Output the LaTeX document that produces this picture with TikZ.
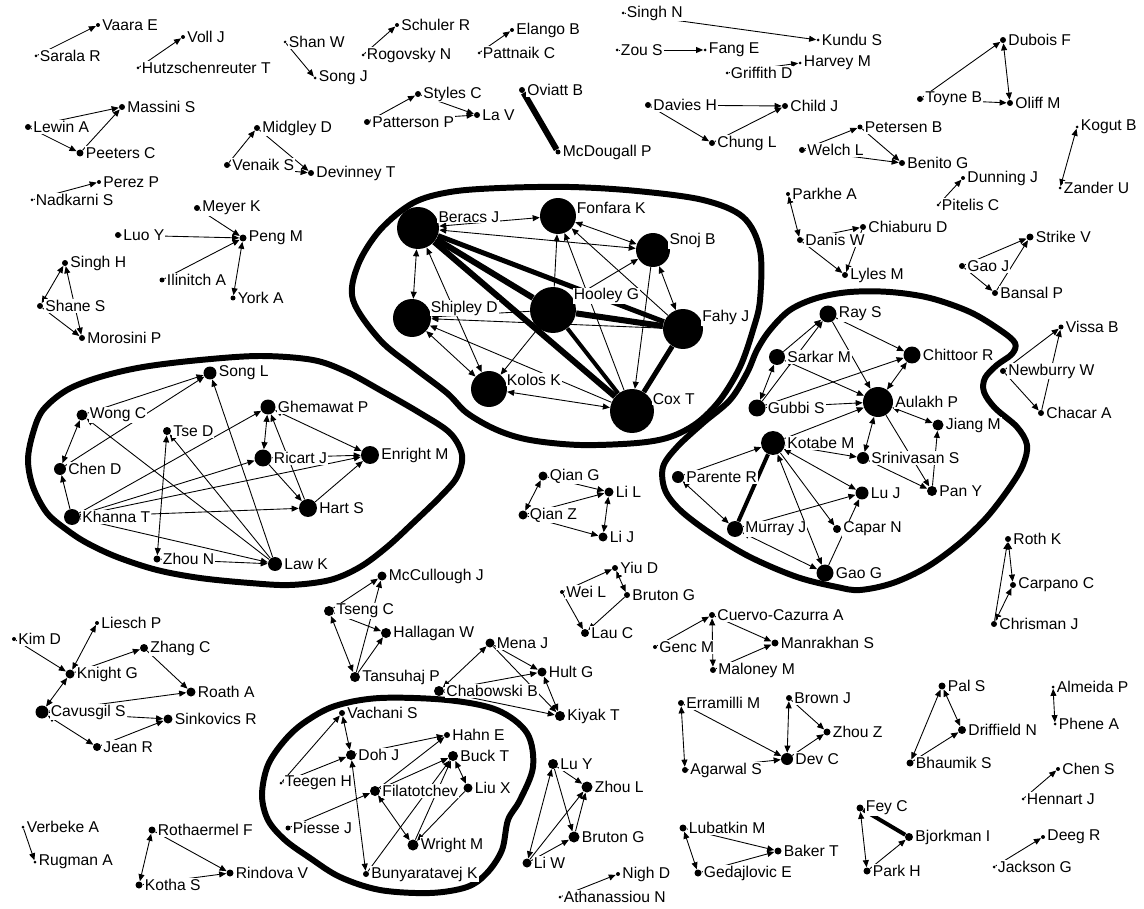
\documentclass[tikz,border=0pt]{standalone}
\usepackage{fontspec}
\newfontfamily\netfont{Liberation Sans}
\usetikzlibrary{arrows.meta}
\pgfdeclarelayer{background}
\pgfsetlayers{background,main}

\begin{document}
\begin{tikzpicture}[
        x=0.02cm, y=-0.02cm,
        vtx/.style={
            circle,
            fill=black,
            inner sep=0pt,
            minimum size=#1*0.2mm
        },
        lbl/.style={
            font=\netfont\fontsize{8.9}{10}\selectfont,
            fill=white,
            inner sep=0.6pt
        },
        every label/.style={lbl},
        label distance=0.4pt,
        lnk/.style={
            -{Triangle[length=4pt,width=3.4pt]},
            line width=0.5pt
        },
        dlnk/.style={
            {Triangle[length=4pt,width=3.4pt]}-{Triangle[length=4pt,width=3.4pt]},
            line width=0.5pt
        },
        tie/.style={
            line width=#1*0.2mm
        },
        hull/.style={
            line width=3.4pt,
            line join=round
        }
    ]

        \useasboundingbox (0,0) rectangle (1144,909);

        % Isolated pairs and triads, top left
        \node[vtx=3, label=right:Sarala R] (sarala) at (36,56) {};
        \node[vtx=4, label=right:Vaara E] (vaara) at (98,25) {};
        \node[vtx=3, label=right:Hutzschenreuter T] (hutz) at (138,68) {};
        \node[vtx=4, label=right:Voll J] (voll) at (183,37) {};
        \node[vtx=6, label=right:Massini S] (massini) at (122,107) {};
        \node[vtx=6, label=right:Lewin A] (lewin) at (28,127) {};
        \node[vtx=7, label=right:Peeters C] (peeters) at (80,153) {};
        \node[vtx=3, label=right:Nadkarni S] (nadkarni) at (32,200) {};
        \node[vtx=4, label=right:Perez P] (perez) at (99,182) {};
        \node[vtx=6, label=right:Meyer K] (meyer) at (197,208) {};
        \node[vtx=6, label=right:Luo Y] (luo) at (118,235) {};
        \node[vtx=7, label=right:Peng M] (peng) at (243,238) {};
        \node[vtx=5, label=right:Ilinitch A] (ilinitch) at (162,280) {};
        \node[vtx=5, label=right:York A] (york) at (233,298) {};
        \node[vtx=6, label=right:Singh H] (singhh) at (65,263) {};
        \node[vtx=6, label=right:Shane S] (shane) at (40,306) {};
        \node[vtx=6, label=right:Morosini P] (morosini) at (82,338) {};

        \node[vtx=3, label=right:Shan W] (shan) at (285,42) {};
        \node[vtx=3, label=right:Song J] (songj) at (315,78) {};
        \node[vtx=4, label=right:Schuler R] (schuler) at (397,25) {};
        \node[vtx=3, label=right:Rogovsky N] (rogovsky) at (363,55) {};
        \node[vtx=4, label=right:Elango B] (elango) at (512,30) {};
        \node[vtx=3, label=right:Pattnaik C] (pattnaik) at (479,53) {};
        \node[vtx=6, label=right:Styles C] (styles) at (418,94) {};
        \node[vtx=6, label=right:Patterson P] (patterson) at (367,122) {};
        \node[vtx=6, label=right:La V] (lav) at (477,115) {};
        \node[vtx=6, label=right:Oviatt B] (oviatt) at (522,90) {};
        \node[vtx=5, label=right:McDougall P] (mcdougall) at (558,152) {};
        \node[vtx=6, label=right:Midgley D] (midgley) at (257,128) {};
        \node[vtx=6, label=right:Venaik S] (venaik) at (227,165) {};
        \node[vtx=6, label=right:Devinney T] (devinney) at (311,173) {};

        % Isolated pairs and triads, top right
        \node[vtx=3, label=right:Singh N] (singhn) at (623,13) {};
        \node[vtx=3, label=right:Kundu S] (kundu) at (818,40) {};
        \node[vtx=3, label=right:Zou S] (zou) at (617,50) {};
        \node[vtx=3, label=right:Fang E] (fang) at (705,50) {};
        \node[vtx=3, label=right:Griffith D] (griffith) at (727,73) {};
        \node[vtx=3, label=right:Harvey M] (harvey) at (800,63) {};
        \node[vtx=6, label=right:Davies H] (davies) at (648,105) {};
        \node[vtx=6, label=right:Child J] (child) at (785,106) {};
        \node[vtx=6, label=right:Chung L] (chung) at (712,143) {};
        \node[vtx=6, label=right:Welch L] (welch) at (802,150) {};
        \node[vtx=5, label=right:Petersen B] (petersen) at (860,127) {};
        \node[vtx=6, label=right:Benito G] (benito) at (902,163) {};
        \node[vtx=4, label=right:Parkhe A] (parkhe) at (788,194) {};
        \node[vtx=6, label=right:Danis W] (danis) at (800,240) {};
        \node[vtx=6, label=right:Lyles M] (lyles) at (845,275) {};
        \node[vtx=6, label=right:Chiaburu D] (chiaburu) at (863,227) {};
        \node[vtx=6, label=right:Dubois F] (dubois) at (1003,40) {};
        \node[vtx=6, label=right:Toyne B] (toyne) at (920,99) {};
        \node[vtx=6, label=right:Oliff M] (oliff) at (1010,103) {};
        \node[vtx=3, label=right:Kogut B] (kogut) at (1077,127) {};
        \node[vtx=3, label=right:Zander U] (zander) at (1060,188) {};
        \node[vtx=4, label=right:Dunning J] (dunning) at (963,178) {};
        \node[vtx=3, label=right:Pitelis C] (pitelis) at (938,205) {};
        \node[vtx=7, label=right:Strike V] (strike) at (1030,237) {};
        \node[vtx=6, label=right:Gao J] (gaoj) at (962,266) {};
        \node[vtx=6, label=right:Bansal P] (bansal) at (995,293) {};

        % Top cluster
        \node[vtx=42, label={[anchor=west]30:Beracs J}] (beracs) at (418,228) {};
        \node[vtx=36, label={[anchor=west]24:Fonfara K}] (fonfara) at (558,216) {};
        \node[vtx=34, label={[anchor=west]33:Snoj B}] (snoj) at (653,250) {};
        \node[vtx=38, label={[anchor=west]30:Shipley D}] (shipley) at (412,318) {};
        \node[vtx=46, label={[anchor=west]36:Hooley G}] (hooley) at (553,310) {};
        \node[vtx=40, label={[anchor=west]32:Fahy J}] (fahy) at (683,329) {};
        \node[vtx=36, label={[anchor=west]30:Kolos K}] (kolos) at (489,389) {};
        \node[vtx=44, label={[anchor=west]32:Cox T}] (cox) at (632,411) {};

        % Left cluster
        \node[vtx=13, label=right:Song L] (songl) at (210,373) {};
        \node[vtx=11, label=right:Wong C] (wong) at (82,415) {};
        \node[vtx=8, label=right:Tse D] (tse) at (167,431) {};
        \node[vtx=12, label=right:Chen D] (chend) at (60,469) {};
        \node[vtx=16, label=right:Khanna T] (khanna) at (72,517) {};
        \node[vtx=7, label=right:Zhou N] (zhoun) at (157,559) {};
        \node[vtx=14, label=right:Law K] (law) at (275,564) {};
        \node[vtx=15, label=right:Ghemawat P] (ghemawat) at (268,407) {};
        \node[vtx=17, label=right:Ricart J] (ricart) at (263,458) {};
        \node[vtx=18, label=right:Enright M] (enright) at (370,455) {};
        \node[vtx=18, label=right:Hart S] (hart) at (308,508) {};

        % Middle groups
        \node[vtx=9, label=right:Qian G] (qiang) at (543,476) {};
        \node[vtx=9, label=right:Qian Z] (qianz) at (523,515) {};
        \node[vtx=9, label=right:Li L] (lil) at (609,492) {};
        \node[vtx=9, label=right:Li J] (lij) at (603,537) {};
        \node[vtx=9, label=right:McCullough J] (mccull) at (382,576) {};
        \node[vtx=10, label=right:Tseng C] (tseng) at (329,611) {};
        \node[vtx=10, label=right:Hallagan W] (hallagan) at (386,633) {};
        \node[vtx=10, label=right:Tansuhaj P] (tansuhaj) at (355,677) {};
        \node[vtx=9, label=right:Mena J] (mena) at (490,643) {};
        \node[vtx=9, label=right:Hult G] (hult) at (542,672) {};
        \node[vtx=10, label=right:Chabowski B] (chabowski) at (439,691) {};
        \node[vtx=10, label=right:Kiyak T] (kiyak) at (560,716) {};
        \node[vtx=6, label=right:Yiu D] (yiu) at (615,568) {};
        \node[vtx=6, label=right:Bruton G] (brutona) at (627,595) {};
        \node[vtx=4, label=right:Wei L] (weil) at (562,592) {};
        \node[vtx=8, label=right:Lau C] (lauc) at (585,633) {};

        % Right cluster
        \node[vtx=17, label=right:Ray S] (ray) at (828,314) {};
        \node[vtx=16, label=right:Sarkar M] (sarkar) at (777,357) {};
        \node[vtx=17, label=right:Chittoor R] (chittoor) at (912,355) {};
        \node[vtx=17, label=right:Gubbi S] (gubbi) at (757,408) {};
        \node[vtx=30, label=right:Aulakh P] (aulakh) at (878,402) {};
        \node[vtx=24, label=right:Kotabe M] (kotabe) at (773,443) {};
        \node[vtx=11, label=right:Jiang M] (jiang) at (938,425) {};
        \node[vtx=12, label=right:Srinivasan S] (srini) at (863,458) {};
        \node[vtx=12, label=right:Parente R] (parente) at (678,477) {};
        \node[vtx=13, label=right:Lu J] (luj) at (862,493) {};
        \node[vtx=10, label=right:Pan Y] (pany) at (932,491) {};
        \node[vtx=16, label=right:Murray J] (murray) at (735,529) {};
        \node[vtx=8, label=right:Capar N] (capar) at (837,529) {};
        \node[vtx=17, label=right:Gao G] (gaog) at (825,573) {};

        \node[vtx=5, label=right:Vissa B] (vissa) at (1061,327) {};
        \node[vtx=6, label=right:Newburry W] (newburry) at (1003,371) {};
        \node[vtx=6, label=right:Chacar A] (chacar) at (1041,413) {};
        \node[vtx=6, label=right:Roth K] (roth) at (1008,539) {};
        \node[vtx=6, label=right:Carpano C] (carpano) at (1013,585) {};
        \node[vtx=6, label=right:Chrisman J] (chrisman) at (994,624) {};

        % Bottom left
        \node[vtx=4, label=right:Liesch P] (liesch) at (97,623) {};
        \node[vtx=4, label=right:Kim D] (kim) at (14,639) {};
        \node[vtx=8, label=right:Zhang C] (zhangc) at (144,648) {};
        \node[vtx=9, label=right:Knight G] (knight) at (70,674) {};
        \node[vtx=9, label=right:Roath A] (roath) at (191,692) {};
        \node[vtx=13, label=right:Cavusgil S] (cavusgil) at (42,712) {};
        \node[vtx=9, label=right:Sinkovics R] (sinkovics) at (168,719) {};
        \node[vtx=8, label=right:Jean R] (jean) at (97,747) {};
        \node[vtx=3, label=right:Verbeke A] (verbeke) at (23,827) {};
        \node[vtx=3, label=right:Rugman A] (rugman) at (35,862) {};
        \node[vtx=7, label=right:Rothaermel F] (rothaermel) at (152,830) {};
        \node[vtx=7, label=right:Kotha S] (kotha) at (139,885) {};
        \node[vtx=7, label=right:Rindova V] (rindova) at (230,873) {};

        % Bottom cluster
        \node[vtx=6, label=right:Vachani S] (vachani) at (342,713) {};
        \node[vtx=10, label=right:Doh J] (doh) at (351,755) {};
        \node[vtx=6, label=right:Hahn E] (hahn) at (447,735) {};
        \node[vtx=10, label=right:Buck T] (buck) at (453,756) {};
        \node[vtx=3, label=right:Teegen H] (teegen) at (281,783) {};
        \node[vtx=10, label=right:Filatotchev] (filat) at (375,791) {};
        \node[vtx=9, label=right:Liu X] (liux) at (468,788) {};
        \node[vtx=5, label=right:Piesse J] (piesse) at (288,828) {};
        \node[vtx=11, label=right:Wright M] (wright) at (413,845) {};
        \node[vtx=6, label=right:Bunyaratavej K] (bunya) at (366,874) {};

        % Bottom middle and right
        \node[vtx=10, label=right:Lu Y] (luy) at (553,764) {};
        \node[vtx=11, label=right:Zhou L] (zhoul) at (587,787) {};
        \node[vtx=11, label=right:Bruton G] (brutonb) at (574,837) {};
        \node[vtx=9, label=right:Li W] (liw) at (527,863) {};
        \node[vtx=4, label=right:Nigh D] (nigh) at (618,874) {};
        \node[vtx=3, label=right:Athanassiou N] (athan) at (560,897) {};
        \node[vtx=6, label=right:Cuervo-Cazurra A] (cuervo) at (712,615) {};
        \node[vtx=4, label=right:Genc M] (genc) at (655,647) {};
        \node[vtx=7, label=right:Manrakhan S] (manrakhan) at (775,643) {};
        \node[vtx=6, label=right:Maloney M] (maloney) at (713,670) {};
        \node[vtx=6, label=right:Erramilli M] (erramilli) at (681,703) {};
        \node[vtx=6, label=right:Brown J] (brownj) at (789,698) {};
        \node[vtx=7, label=right:Zhou Z] (zhouz) at (827,732) {};
        \node[vtx=6, label=right:Agarwal S] (agarwal) at (685,770) {};
        \node[vtx=12, label=right:Dev C] (devc) at (787,759) {};
        \node[vtx=7, label=right:Lubatkin M] (lubatkin) at (683,828) {};
        \node[vtx=7, label=right:Baker T] (baker) at (778,851) {};
        \node[vtx=7, label=right:Gedajlovic E] (gedaj) at (698,873) {};
        \node[vtx=7, label=right:Pal S] (pals) at (942,686) {};
        \node[vtx=8, label=right:Driffield N] (driffield) at (962,730) {};
        \node[vtx=7, label=right:Bhaumik S] (bhaumik) at (910,763) {};
        \node[vtx=3, label=right:Almeida P] (almeida) at (1053,687) {};
        \node[vtx=3, label=right:Phene A] (phene) at (1055,724) {};
        \node[vtx=4, label=right:Chen S] (chens) at (1058,769) {};
        \node[vtx=3, label=right:Hennart J] (hennart) at (1023,799) {};
        \node[vtx=7, label=right:Fey C] (fey) at (860,808) {};
        \node[vtx=8, label=right:Bjorkman I] (bjorkman) at (909,837) {};
        \node[vtx=7, label=right:Park H] (parkh) at (867,871) {};
        \node[vtx=4, label=right:Deeg R] (deeg) at (1043,837) {};
        \node[vtx=3, label=right:Jackson G] (jackson) at (994,867) {};

        \begin{pgfonlayer}{background}
        % Cluster outlines
        \draw[hull] plot[smooth cycle, tension=0.55] coordinates {
            (353,300) (358,265) (380,230) (413,203) (450,192) (500,188)
            (570,187) (637,191) (703,200) (743,217) (760,250) (760,300)
            (753,330) (740,367) (720,400) (697,423) (670,437) (637,443)
            (580,445) (530,440) (497,430) (467,413) (447,393) (413,367)
            (380,340)};
        \draw[hull] plot[smooth cycle, tension=0.55] coordinates {
            (28,460) (33,433) (43,410) (67,390) (100,377) (143,367)
            (200,360) (260,356) (313,360) (347,372) (380,390) (420,413)
            (450,433) (462,455) (457,477) (440,497) (413,523) (387,547)
            (360,567) (330,580) (290,585) (250,583) (200,578) (157,570)
            (117,557) (87,543) (67,530) (47,513) (33,487)};
        \draw[hull] plot[smooth cycle, tension=0.55] coordinates {
            (817,298) (850,292) (890,292) (930,298) (970,312) (1000,330)
            (1015,343) (1012,354) (997,365) (985,378) (984,392) (995,408)
            (1017,427) (1027,445) (1023,465) (1010,487) (987,517) (960,543)
            (927,567) (893,583) (860,590) (837,587) (797,577) (750,557)
            (710,533) (680,510) (665,490) (663,467) (677,447) (703,423)
            (730,400) (747,373) (757,350) (770,330) (790,310)};
        \draw[hull] plot[smooth cycle, tension=0.55] coordinates {
            (262,795) (268,765) (285,740) (305,722) (335,706) (380,698)
            (447,700) (497,710) (527,733) (533,767) (520,800) (508,820)
            (502,850) (487,873) (467,887) (430,893) (380,890) (340,877)
            (310,858) (285,840) (268,820)};

        % Ties, top left
        \draw[lnk] (sarala) -- (vaara);
        \draw[lnk] (hutz) -- (voll);
        \draw[lnk] (lewin) -- (massini);
        \draw[lnk] (lewin) -- (peeters);
        \draw[lnk] (peeters) -- (massini);
        \draw[lnk] (nadkarni) -- (perez);
        \draw[lnk] (meyer) -- (peng);
        \draw[lnk] (luo) -- (peng);
        \draw[lnk] (ilinitch) -- (peng);
        \draw[dlnk] (york) -- (peng);
        \draw[dlnk] (shane) -- (singhh);
        \draw[lnk] (shane) -- (morosini);
        \draw[dlnk] (singhh) -- (morosini);
        \draw[lnk] (shan) -- (songj);
        \draw[lnk] (rogovsky) -- (schuler);
        \draw[lnk] (pattnaik) -- (elango);
        \draw[lnk] (patterson) -- (styles);
        \draw[lnk] (styles) -- (lav);
        \draw[lnk] (patterson) -- (lav);
        \draw[tie=6] (oviatt) -- (mcdougall);
        \draw[lnk] (venaik) -- (midgley);
        \draw[lnk] (midgley) -- (devinney);
        \draw[lnk] (venaik) -- (devinney);

        % Ties, top right
        \draw[lnk] (singhn) -- (kundu);
        \draw[lnk] (zou) -- (fang);
        \draw[lnk] (griffith) -- (harvey);
        \draw[lnk] (davies) -- (child);
        \draw[lnk] (davies) -- (chung);
        \draw[lnk] (chung) -- (child);
        \draw[lnk] (welch) -- (petersen);
        \draw[lnk] (petersen) -- (benito);
        \draw[lnk] (welch) -- (benito);
        \draw[dlnk] (parkhe) -- (danis);
        \draw[lnk] (danis) -- (chiaburu);
        \draw[lnk] (danis) -- (lyles);
        \draw[lnk] (chiaburu) -- (lyles);
        \draw[lnk] (toyne) -- (dubois);
        \draw[lnk] (toyne) -- (oliff);
        \draw[dlnk] (dubois) -- (oliff);
        \draw[dlnk] (kogut) -- (zander);
        \draw[lnk] (pitelis) -- (dunning);
        \draw[lnk] (gaoj) -- (strike);
        \draw[lnk] (gaoj) -- (bansal);
        \draw[lnk] (bansal) -- (strike);

        % Ties, top cluster
        \draw[dlnk] (beracs) -- (fonfara);
        \draw[dlnk] (beracs) -- (snoj);
        \draw[dlnk] (beracs) -- (shipley);
        \draw[dlnk] (beracs) -- (kolos);
        \draw[tie=6] (beracs) -- (hooley);
        \draw[tie=5] (beracs) -- (fahy);
        \draw[tie=6] (beracs) -- (cox);
        \draw[dlnk] (fonfara) -- (snoj);
        \draw[lnk] (hooley) -- (fonfara);
        \draw[lnk] (fahy) -- (fonfara);
        \draw[lnk] (cox) -- (fonfara);
        \draw[lnk] (hooley) -- (snoj);
        \draw[dlnk] (snoj) -- (fahy);
        \draw[lnk] (snoj) -- (cox);
        \draw[lnk] (hooley) -- (shipley);
        \draw[lnk] (fahy) -- (shipley);
        \draw[lnk] (cox) -- (shipley);
        \draw[dlnk] (shipley) -- (kolos);
        \draw[lnk] (hooley) -- (kolos);
        \draw[dlnk] (cox) -- (kolos);
        \draw[tie=6] (hooley) -- (fahy);
        \draw[tie=4] (hooley) -- (cox);
        \draw[tie=5] (fahy) -- (cox);

        % Ties, left cluster
        \draw[lnk] (wong) -- (songl);
        \draw[lnk] (chend) -- (songl);
        \draw[dlnk] (wong) -- (chend);
        \draw[lnk] (khanna) -- (chend);
        \draw[lnk] (khanna) -- (ghemawat);
        \draw[lnk] (khanna) -- (ricart);
        \draw[lnk] (khanna) -- (enright);
        \draw[lnk] (khanna) -- (hart);
        \draw[lnk] (khanna) -- (law);
        \draw[dlnk] (tse) -- (zhoun);
        \draw[lnk] (law) -- (tse);
        \draw[lnk] (law) -- (wong);
        \draw[lnk] (law) -- (songl);
        \draw[lnk] (zhoun) -- (law);
        \draw[dlnk] (ricart) -- (ghemawat);
        \draw[dlnk] (ghemawat) -- (enright);
        \draw[lnk] (ricart) -- (enright);
        \draw[lnk] (ricart) -- (hart);
        \draw[lnk] (hart) -- (enright);
        \draw[lnk] (hart) -- (ghemawat);

        % Ties, middle groups
        \draw[dlnk] (qiang) -- (qianz);
        \draw[lnk] (qiang) -- (lil);
        \draw[lnk] (qianz) -- (lil);
        \draw[lnk] (qianz) -- (lij);
        \draw[dlnk] (lil) -- (lij);
        \draw[lnk] (tseng) -- (mccull);
        \draw[lnk] (tansuhaj) -- (mccull);
        \draw[lnk] (tseng) -- (hallagan);
        \draw[dlnk] (tseng) -- (tansuhaj);
        \draw[lnk] (tansuhaj) -- (hallagan);
        \draw[dlnk] (chabowski) -- (mena);
        \draw[lnk] (mena) -- (hult);
        \draw[lnk] (mena) -- (kiyak);
        \draw[dlnk] (hult) -- (kiyak);
        \draw[lnk] (chabowski) -- (hult);
        \draw[lnk] (chabowski) -- (kiyak);
        \draw[lnk] (weil) -- (yiu);
        \draw[dlnk] (yiu) -- (brutona);
        \draw[lnk] (weil) -- (lauc);
        \draw[lnk] (brutona) -- (lauc);

        % Ties, right cluster
        \draw[lnk] (sarkar) -- (ray);
        \draw[lnk] (gubbi) -- (ray);
        \draw[lnk] (ray) -- (chittoor);
        \draw[lnk] (ray) -- (aulakh);
        \draw[dlnk] (sarkar) -- (gubbi);
        \draw[dlnk] (sarkar) -- (aulakh);
        \draw[lnk] (gubbi) -- (chittoor);
        \draw[lnk] (gubbi) -- (aulakh);
        \draw[lnk] (kotabe) -- (aulakh);
        \draw[dlnk] (chittoor) -- (aulakh);
        \draw[dlnk] (aulakh) -- (jiang);
        \draw[dlnk] (aulakh) -- (srini);
        \draw[lnk] (aulakh) -- (pany);
        \draw[lnk] (pany) -- (jiang);
        \draw[lnk] (srini) -- (pany);
        \draw[dlnk] (kotabe) -- (srini);
        \draw[dlnk] (kotabe) -- (luj);
        \draw[lnk] (kotabe) -- (capar);
        \draw[dlnk] (kotabe) -- (gaog);
        \draw[tie=4] (kotabe) -- (murray);
        \draw[lnk] (parente) -- (kotabe);
        \draw[dlnk] (parente) -- (murray);
        \draw[lnk] (murray) -- (luj);
        \draw[dlnk] (murray) -- (gaog);
        \draw[lnk] (gaog) -- (luj);
        \draw[lnk] (newburry) -- (vissa);
        \draw[lnk] (chacar) -- (vissa);
        \draw[lnk] (newburry) -- (chacar);
        \draw[dlnk] (roth) -- (carpano);
        \draw[lnk] (chrisman) -- (roth);
        \draw[dlnk] (chrisman) -- (carpano);

        % Ties, bottom left
        \draw[lnk] (kim) -- (knight);
        \draw[dlnk] (knight) -- (liesch);
        \draw[lnk] (knight) -- (zhangc);
        \draw[lnk] (zhangc) -- (roath);
        \draw[dlnk] (cavusgil) -- (knight);
        \draw[lnk] (cavusgil) -- (roath);
        \draw[lnk] (cavusgil) -- (sinkovics);
        \draw[dlnk] (cavusgil) -- (jean);
        \draw[lnk] (jean) -- (sinkovics);
        \draw[lnk] (verbeke) -- (rugman);
        \draw[dlnk] (rothaermel) -- (kotha);
        \draw[lnk] (rothaermel) -- (rindova);
        \draw[lnk] (kotha) -- (rindova);

        % Ties, bottom cluster
        \draw[lnk] (teegen) -- (vachani);
        \draw[dlnk] (vachani) -- (doh);
        \draw[lnk] (teegen) -- (doh);
        \draw[dlnk] (doh) -- (bunya);
        \draw[lnk] (doh) -- (hahn);
        \draw[lnk] (filat) -- (hahn);
        \draw[lnk] (filat) -- (buck);
        \draw[lnk] (piesse) -- (filat);
        \draw[dlnk] (filat) -- (wright);
        \draw[lnk] (wright) -- (buck);
        \draw[lnk] (liux) -- (wright);
        \draw[dlnk] (buck) -- (liux);
        \draw[lnk] (bunya) -- (buck);

        % Ties, bottom middle and right
        \draw[dlnk] (luy) -- (liw);
        \draw[lnk] (luy) -- (zhoul);
        \draw[lnk] (luy) -- (brutonb);
        \draw[lnk] (brutonb) -- (zhoul);
        \draw[lnk] (liw) -- (brutonb);
        \draw[lnk] (liw) -- (zhoul);
        \draw[lnk] (athan) -- (nigh);
        \draw[lnk] (genc) -- (cuervo);
        \draw[dlnk] (cuervo) -- (maloney);
        \draw[lnk] (cuervo) -- (manrakhan);
        \draw[lnk] (maloney) -- (manrakhan);
        \draw[dlnk] (erramilli) -- (agarwal);
        \draw[lnk] (erramilli) -- (devc);
        \draw[lnk] (agarwal) -- (devc);
        \draw[dlnk] (brownj) -- (devc);
        \draw[lnk] (brownj) -- (zhouz);
        \draw[lnk] (devc) -- (zhouz);
        \draw[dlnk] (lubatkin) -- (gedaj);
        \draw[lnk] (lubatkin) -- (baker);
        \draw[lnk] (gedaj) -- (baker);
        \draw[dlnk] (pals) -- (driffield);
        \draw[dlnk] (pals) -- (bhaumik);
        \draw[lnk] (bhaumik) -- (driffield);
        \draw[dlnk] (almeida) -- (phene);
        \draw[lnk] (hennart) -- (chens);
        \draw[tie=4] (fey) -- (bjorkman);
        \draw[dlnk] (fey) -- (parkh);
        \draw[lnk] (parkh) -- (bjorkman);
        \draw[lnk] (jackson) -- (deeg);
        \end{pgfonlayer}

    \end{tikzpicture}
\end{document}
